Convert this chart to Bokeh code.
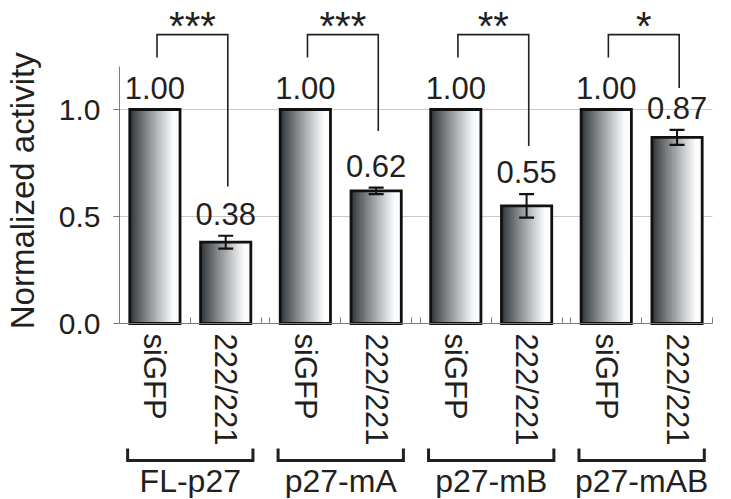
import math
import numpy as np
from bokeh.plotting import figure
from bokeh.models import (Range1d, LinearAxis, FixedTicker, NumeralTickFormatter,
                          ColumnDataSource, Whisker, TeeHead)
from bokeh.core.properties import value
from bokeh.embed import file_html
from bokeh.resources import INLINE

# ---------------- data ----------------
groups = ["FL-p27", "p27-mA", "p27-mB", "p27-mAB"]
conditions = ["siGFP", "222/221"]
means = [1.00, 0.38, 1.00, 0.62, 1.00, 0.55, 1.00, 0.87]
errors = [0.0, 0.03, 0.0, 0.015, 0.0, 0.055, 0.0, 0.035]
value_labels = ["1.00", "0.38", "1.00", "0.62", "1.00", "0.55", "1.00", "0.87"]
stars = ["***", "***", "**", "*"]
bracket_ends = [0.64, 0.90, 0.83, 1.10]
y_ticks = [0.0, 0.5, 1.0]
y_axis_max = 1.2
y_title = "Normalized activity"

# ---------------- layout constants ----------------
FONT = "Liberation Sans"
TXT = "#231f20"
GAP = 0.125          # gap between groups (in slot units)
BAR_W = 0.71
PX_X = 70.8          # pixels per x unit
PX_Y = 214.0         # pixels per y unit
W, H = 730, 498
X0_PX = 119          # canvas x of the y axis
Y0_PX = 323          # canvas y of value 0

n_sub = len(conditions)
centers, boundaries = [], []
for g in range(len(groups)):
    base = g * (n_sub + GAP)
    for i in range(n_sub):
        centers.append(base + i + 0.5)
    for i in range(n_sub + 1):
        boundaries.append(base + i)
x_end_axis = boundaries[-1]
sub_labels = [conditions[i % n_sub] for i in range(len(centers))]

p = figure(width=W, height=H, title=None,
           x_range=Range1d(-X0_PX / PX_X, (W - X0_PX) / PX_X),
           y_range=Range1d(-(H - Y0_PX) / PX_Y, Y0_PX / PX_Y),
           output_backend="svg", toolbar_location=None,
           x_axis_type=None, y_axis_type=None, min_border=0,
           outline_line_color=None, background_fill_color="white",
           border_fill_color="white")

# grid lines (only across the axis extent)
gy = [t for t in y_ticks if t > 0]
p.segment(x0=[0] * len(gy), x1=[x_end_axis] * len(gy), y0=gy, y1=gy,
          line_color="#c9c9c9", line_width=1)

# gradient fill of the bars (an RGBA ramp stretched over each bar)
NCOL = 64
ramp = np.empty((1, NCOL), dtype=np.uint32)
view = ramp.view(dtype=np.uint8).reshape((1, NCOL, 4))
dark = np.array([42, 48, 52])
light = np.array([251, 252, 253])
for k in range(NCOL):
    t = (k + 0.5) / NCOL
    f = min((t / 0.86) ** 0.9, 1.0)
    rgb = dark + (light - dark) * f
    view[0, k, :3] = np.round(rgb).astype(np.uint8)
    view[0, k, 3] = 255
p.image_rgba(image=[ramp] * len(centers), x=[c - BAR_W / 2 for c in centers],
             y=[0] * len(centers), dw=[BAR_W] * len(centers), dh=means)
p.vbar(x=centers, top=means, bottom=0, width=BAR_W, fill_color=None,
       line_color="#111111", line_width=2.8, line_join="miter")

# error bars
eb = [(c, m, e) for c, m, e in zip(centers, means, errors) if e > 0]
esrc = ColumnDataSource(dict(x=[a[0] for a in eb],
                             upper=[a[1] + a[2] for a in eb],
                             lower=[a[1] - a[2] for a in eb]))
p.add_layout(Whisker(source=esrc, base="x", upper="upper", lower="lower",
                     level="overlay", line_color="#111111", line_width=2,
                     upper_head=TeeHead(size=15, line_width=2.2, line_color="#111111"),
                     lower_head=TeeHead(size=15, line_width=2.2, line_color="#111111")))

# value labels (visual centre about 21 px above the bar / error bar)
LBL_OFF = 22 / PX_Y
p.text(x=centers, y=[m + e + LBL_OFF for m, e in zip(means, errors)], text=value_labels,
       text_align="center", text_baseline="middle",
       text_font=value(FONT), text_font_size="31px", text_color=TXT)

# significance brackets
BR_TOP, BR_LEFT_END, STAR_Y = 1.35, 1.243, 1.392
xs, ys, star_x = [], [], []
for g in range(len(groups)):
    xl = centers[2 * g] + 0.03
    xr = centers[2 * g + 1] + 0.03
    xs.append([xl, xl, xr, xr])
    ys.append([BR_LEFT_END, BR_TOP, BR_TOP, bracket_ends[g]])
    star_x.append((xl + xr) / 2)
p.multi_line(xs=xs, ys=ys, line_color=TXT, line_width=1.6, line_join="miter")
p.text(x=star_x, y=[STAR_Y] * len(stars), text=stars, text_align="center",
       text_baseline="middle", text_font=value(FONT), text_font_size="40px",
       text_color=TXT)

# group brackets below the axis
GB_LEG, GB_BAR, GL_Y = -0.584, -0.640, -0.735
gxs, gys, gcx = [], [], []
for g in range(len(groups)):
    l = centers[2 * g] - BAR_W / 2 - 0.03
    r = centers[2 * g + 1] + BAR_W / 2 + 0.03
    gxs.append([l, l, r, r])
    gys.append([GB_LEG, GB_BAR, GB_BAR, GB_LEG])
    gcx.append((l + r) / 2)
p.multi_line(xs=gxs, ys=gys, line_color=TXT, line_width=3, line_join="miter")
p.text(x=gcx, y=[GL_Y] * len(groups), text=groups, text_align="center",
       text_baseline="middle", text_font=value(FONT), text_font_size="32px",
       text_color=TXT)

# y axis title (rotated)
p.text(x=[-1.377], y=[0.62], text=[y_title], angle=math.pi / 2,
       text_align="center", text_baseline="middle",
       text_font=value(FONT), text_font_size="33px", text_color=TXT)

# y axis at x = 0
yaxis = LinearAxis(ticker=FixedTicker(ticks=y_ticks),
                   formatter=NumeralTickFormatter(format="0.0"),
                   fixed_location=0, bounds=(0, y_axis_max),
                   major_label_text_font=FONT, major_label_text_font_size="30px",
                   major_label_text_color=TXT, major_label_standoff=13,
                   major_tick_out=6, major_tick_in=0, minor_tick_out=0, minor_tick_in=0,
                   axis_line_color="#7a7a7a", major_tick_line_color="#7a7a7a")
p.add_layout(yaxis, "left")

# x axis at y = 0
xaxis = LinearAxis(ticker=FixedTicker(ticks=centers, minor_ticks=boundaries),
                   fixed_location=0, bounds=(0, x_end_axis),
                   major_label_overrides={c: s for c, s in zip(centers, sub_labels)},
                   major_label_orientation="vertical",
                   major_label_text_font=FONT, major_label_text_font_size="31px",
                   major_label_text_color=TXT, major_label_standoff=10,
                   major_tick_in=0, major_tick_out=0,
                   minor_tick_in=6, minor_tick_out=0,
                   axis_line_color="#7a7a7a", minor_tick_line_color="#7a7a7a")
p.add_layout(xaxis, "below")

open("out.html", "w").write(file_html(p, INLINE))
